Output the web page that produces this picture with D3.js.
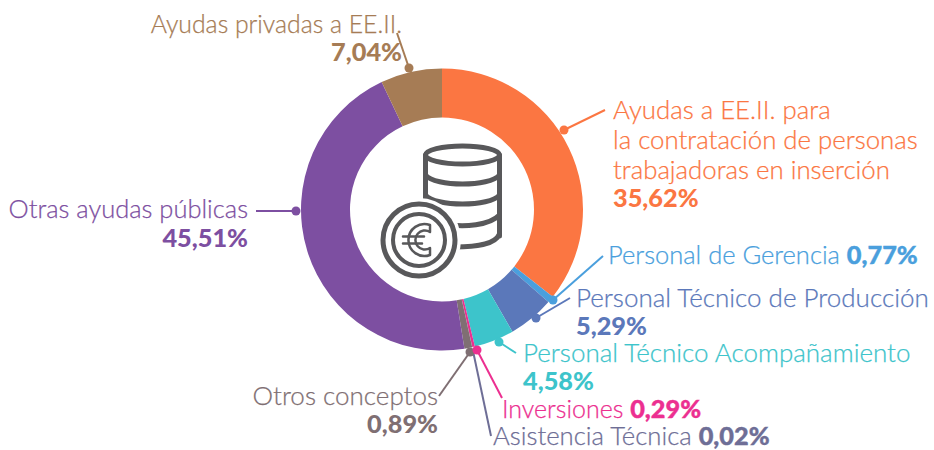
<!DOCTYPE html>
<html>
<head>
<meta charset="utf-8">
<script src="https://cdn.jsdelivr.net/npm/d3@7"></script>
<style>
  html, body { margin: 0; background: #fff; }
  text { font-family: Lato, "Open Sans", sans-serif; }
  .name { font-size: 25.8px; font-weight: 300; stroke: currentColor; stroke-width: 0.25px; }
  .pct { font-size: 25.3px; font-weight: 900; stroke-width: 0.4px; }
</style>
</head>
<body>
<div id="chart"></div>
<script>
var categories = ["Ayudas a EE.II. para la contratación de personas trabajadoras en inserción",
    "Personal de Gerencia", "Personal Técnico de Producción", "Personal Técnico Acompañamiento",
    "Inversiones", "Asistencia Técnica", "Otros conceptos", "Otras ayudas públicas", "Ayudas privadas a EE.II."];
var values = [35.62, 0.77, 5.29, 4.58, 0.29, 0.02, 0.89, 45.51, 7.04];
var valueLabels = ["35,62%", "0,77%", "5,29%", "4,58%", "0,29%", "0,02%", "0,89%", "45,51%", "7,04%"];
var colors = ["#fb7642", "#4a9fdd", "#5b78ba", "#3dc4cb", "#ec2f90", "#6e6e96", "#7f6f73", "#7d4fa1", "#a67c55"];

var width = 934, height = 450,
    cx = 442, cy = 209.5,
    outerR = 141, innerR = 92;

var svg = d3.select("#chart").append("svg")
    .attr("width", width)
    .attr("height", height);

var pie = d3.pie().sort(null).value(function(d) { return d; });
var arc = d3.arc().innerRadius(innerR).outerRadius(outerR);

var g = svg.append("g").attr("transform", "translate(" + cx + "," + cy + ")");

g.selectAll("path.slice")
    .data(pie(values))
    .enter().append("path")
    .attr("class", "slice")
    .attr("d", arc)
    .attr("fill", function(d, i) { return colors[i]; });

// leader lines: dot [x,y], end of line [x,y]
var leaders = [
    {i: 0, dot: [564, 130], end: [605, 110]},
    {i: 1, dot: [553, 300], end: [603, 256]},
    {i: 2, dot: [536, 318], end: [570, 298]},
    {i: 3, dot: [499, 342], end: [516, 353]},
    {i: 5, dot: [473, 351], end: [491, 436], noDot: true},
    {i: 6, dot: [470, 352], end: [439, 396]},
    {i: 4, dot: [477, 350], end: [502, 398]},
    {i: 7, dot: [296, 211], end: [256, 211]},
    {i: 8, dot: [409, 68], end: [397, 33]}
];

leaders.forEach(function(l) {
    svg.append("line")
        .attr("x1", l.dot[0]).attr("y1", l.dot[1])
        .attr("x2", l.end[0]).attr("y2", l.end[1])
        .attr("stroke", colors[l.i])
        .attr("stroke-width", 2);
    if (!l.noDot) {
        svg.append("circle")
            .attr("cx", l.dot[0]).attr("cy", l.dot[1])
            .attr("r", 4.5)
            .attr("fill", colors[l.i]);
    }
});

// text blocks
function label(i, x, y, txt, cls, anchor, size) {
    var t = svg.append("text")
        .attr("class", cls)
        .attr("x", x).attr("y", y)
        .attr("text-anchor", anchor || "start")
        .attr("fill", colors[i])
        .style("color", colors[i])
        .text(txt);
    if (size) t.style("font-size", size + "px");
    return t;
}

label(8, 402, 33, categories[8], "name", "end", 24.8);
label(8, 402, 61, valueLabels[8], "pct", "end");

label(0, 613, 119, "Ayudas a EE.II. para", "name");
label(0, 613, 149, "la contratación de personas", "name");
label(0, 613, 179, "trabajadoras en inserción", "name");
label(0, 613, 207, valueLabels[0], "pct");

var l1 = label(1, 608, 264, categories[1] + " ", "name", "start", 25.5);
l1.append("tspan").attr("class", "pct").text(valueLabels[1]);

label(2, 576, 307, categories[2], "name", "start", 26);
label(2, 576, 335, valueLabels[2], "pct");

label(3, 523, 362, categories[3], "name", "start", 26);
label(3, 523, 390, valueLabels[3], "pct");

var l4 = label(4, 502, 418, categories[4] + " ", "name", "start", 25);
l4.append("tspan").attr("class", "pct").text(valueLabels[4]);

var l5 = label(5, 493, 445, categories[5] + " ", "name", "start", 25.7);
l5.append("tspan").attr("class", "pct").text(valueLabels[5]);

label(6, 438, 405, categories[6], "name", "end", 26);
label(6, 438, 433, valueLabels[6], "pct", "end");

label(7, 248, 218, categories[7], "name", "end", 25.5);
label(7, 248, 247, valueLabels[7], "pct", "end");

// coin icon in the hole
var icon = svg.append("g")
    .attr("fill", "none")
    .attr("stroke", "#58585a")
    .attr("stroke-width", 5)
    .attr("stroke-linecap", "round")
    .attr("stroke-linejoin", "round");

icon.append("ellipse")
    .attr("cx", 462.5).attr("cy", 155)
    .attr("rx", 37).attr("ry", 9);

var stack = "M425.5 155 V232 M499.5 155 V236 " +
    "M425.5 175 C435 187 490 187 499.5 175 " +
    "M425.5 195 C435 207 490 207 499.5 195 " +
    "M443 224 C465 228 490 225 499.5 215 " +
    "M455 247 C475 247 495 245 499.5 234";
icon.append("path").attr("d", stack);

icon.append("circle")
    .attr("cx", 419).attr("cy", 240)
    .attr("r", 42)
    .attr("fill", "#fff")
    .attr("stroke", "none");
icon.append("circle").attr("cx", 419).attr("cy", 240).attr("r", 36);
icon.append("circle").attr("cx", 419).attr("cy", 240).attr("r", 26).attr("stroke-width", 4);

var euro = icon.append("g").attr("stroke-width", 2.5);
euro.append("path").attr("d", "M430 225 A16 16 0 1 0 430 255 V248 A9.5 9.5 0 1 1 430 232 Z");
euro.append("path").attr("d", "M403 236.5 H424 M403 243.5 H422");
</script>
</body>
</html>
